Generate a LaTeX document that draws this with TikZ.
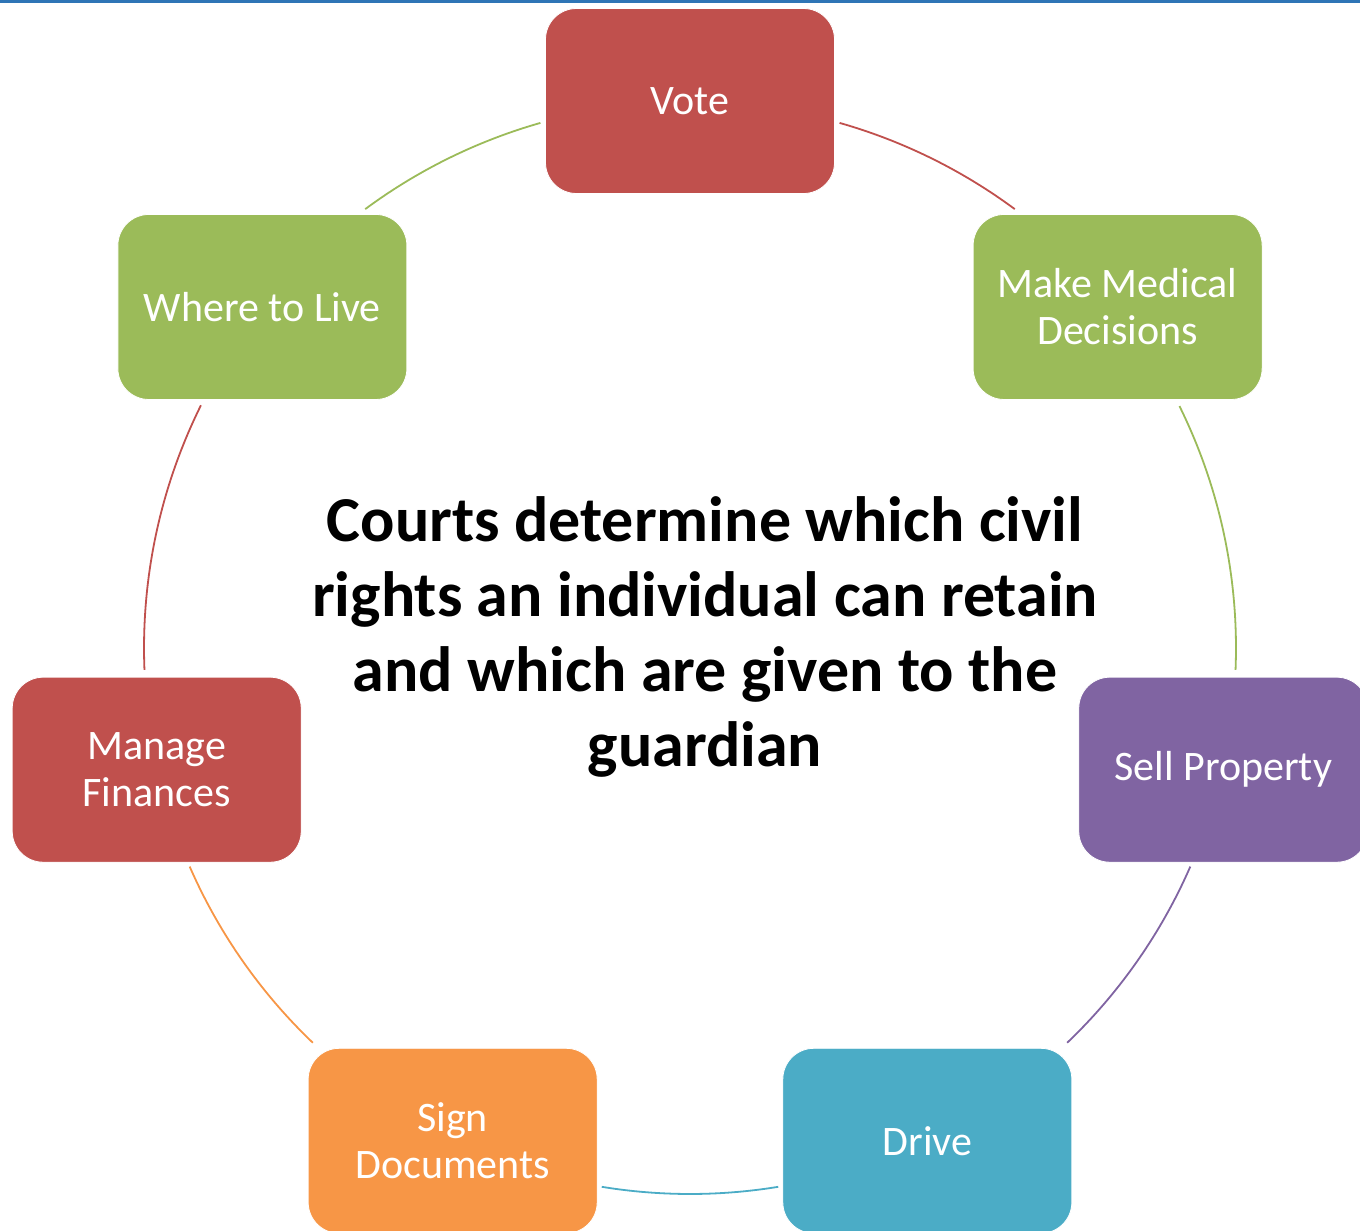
\documentclass[tikz,border=0pt]{standalone}
\usepackage{fontspec}
\setmainfont{Carlito}
\definecolor{redc}{HTML}{C0504D}
\definecolor{greenc}{HTML}{9BBB59}
\definecolor{purplec}{HTML}{8064A2}
\definecolor{bluec}{HTML}{4BACC6}
\definecolor{orangec}{HTML}{F79646}
\definecolor{topblue}{HTML}{2E75B6}
\begin{document}
\begin{tikzpicture}[x=1pt,y=1pt,
  item/.style={rounded corners=31pt, minimum width=289pt, minimum height=185pt,
    draw=white, line width=0.8pt, text=white, align=center, inner sep=0pt,
    font=\fontsize{42}{47}\selectfont},
  link/.style={line width=1.8pt}]
\useasboundingbox (0,0) rectangle (1360,-1231);
\clip (0,0) rectangle (1360,-1231);
% thin rule along the top edge
\fill[topblue] (0,0) rectangle (1360,-3);
% centre of the cycle
\coordinate (c) at (690,-648);
% connecting arcs, each in the colour of the step it leaves
\draw[link, redc]    ([shift={(74.1:546)}]c)   arc[start angle=74.1,   end angle=53.5,   radius=546];
\draw[link, greenc]  ([shift={(26.3:546)}]c)   arc[start angle=26.3,   end angle=-2.3,   radius=546];
\draw[link, purplec] ([shift={(-23.6:546)}]c)  arc[start angle=-23.6,  end angle=-46.3,  radius=546];
\draw[link, bluec]   ([shift={(-80.7:546)}]c)  arc[start angle=-80.7,  end angle=-99.3,  radius=546];
\draw[link, orangec] ([shift={(-133.7:546)}]c) arc[start angle=-133.7, end angle=-156.4, radius=546];
\draw[link, redc]    ([shift={(-177.7:546)}]c) arc[start angle=-177.7, end angle=-206.4, radius=546];
\draw[link, greenc]  ([shift={(126.5:546)}]c)  arc[start angle=126.5,  end angle=105.9,  radius=546];
% the seven steps around the cycle
\node[item, fill=redc]    (vote)    at ([shift={(90:547)}]c)      {Vote};
\node[item, fill=greenc]  (medical) at ([shift={(38.571:547)}]c)  {Make Medical\\Decisions};
\node[item, fill=purplec] (sell)    at ([shift={(-12.857:547)}]c) {Sell Property};
\node[item, fill=bluec]   (drive)   at ([shift={(-64.286:547)}]c) {Drive};
\node[item, fill=orangec] (sign)    at ([shift={(-115.714:547)}]c) {Sign\\Documents};
\node[item, fill=redc]    (manage)  at ([shift={(-167.143:547)}]c) {Manage\\Finances};
\node[item, fill=greenc]  (where)   at ([shift={(141.429:547)}]c) {Where to Live};
% central statement
\node[align=center, font=\fontsize{64}{75}\selectfont\bfseries, inner sep=0pt] (centre) at (705,-637)
  {Courts determine which civil\\rights an individual can retain\\and which are given to the\\guardian};
\end{tikzpicture}
\end{document}
